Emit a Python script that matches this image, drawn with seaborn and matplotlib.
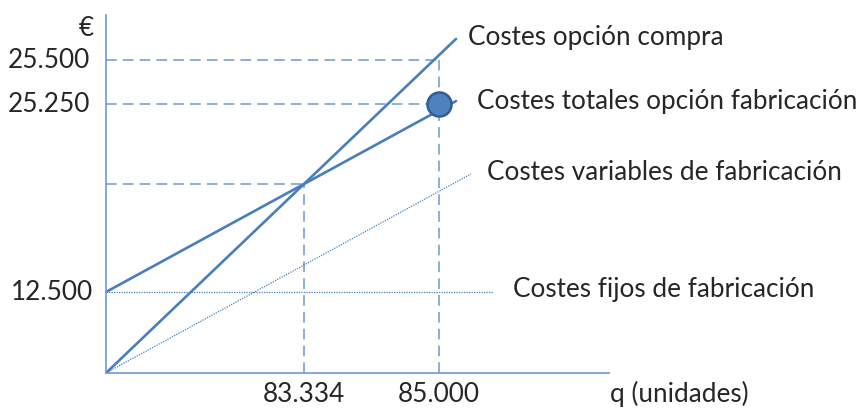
import numpy as np
import pandas as pd
import matplotlib.pyplot as plt
import seaborn as sns

# schematic break-even diagram (not to scale)
y_tick_labels = ['25.500', '25.250', '12.500']
x_tick_labels = ['83.334', '85.000']
line_names = ['Costes opción compra', 'Costes totales opción fabricación',
              'Costes variables de fabricación', 'Costes fijos de fabricación']

# diagram positions of the labelled values (axis length 503 x 358)
pos_fixed = 81       # 12.500
pos_25250 = 269
pos_25500 = 313
pos_be_x = 198       # 83.334
pos_be_y = 189
pos_85000 = 333
x_max, y_max = 503, 358
line_end = 350
var_end = 365
fixed_end = 387

blue = '#4a7ebb'
light = '#6f99d0'

sns.set_style('white')
plt.rcParams['font.family'] = ['Lato', 'DejaVu Sans']

fig = plt.figure(figsize=(8.59, 4.09), dpi=100)
ax = fig.add_axes([106 / 859, 36 / 409, x_max / 859, y_max / 409])
ax.set_xlim(0, x_max)
ax.set_ylim(0, y_max)

# lines through the break-even point
slope_buy = pos_be_y / pos_be_x
slope_make = (pos_be_y - pos_fixed) / pos_be_x
q = np.array([0, line_end])
buy = pd.DataFrame({'q': q, 'c': slope_buy * q})
make = pd.DataFrame({'q': q, 'c': pos_fixed + slope_make * q})
qv = np.array([0, var_end])
var = pd.DataFrame({'q': qv, 'c': slope_make * qv})
fixed = pd.DataFrame({'q': [0, fixed_end], 'c': [pos_fixed, pos_fixed]})

# guide lines
guide = dict(color=light, lw=1.1, dashes=(7, 4), zorder=1)
ax.plot([0, pos_85000], [pos_25500, pos_25500], **guide)
ax.plot([0, pos_85000], [pos_25250, pos_25250], **guide)
ax.plot([0, pos_be_x], [pos_be_y, pos_be_y], **guide)
ax.plot([pos_be_x, pos_be_x], [0, pos_be_y], **guide)
ax.plot([pos_85000, pos_85000], [0, pos_25500], **guide)

sns.lineplot(data=fixed, x='q', y='c', ax=ax, color=blue, lw=0.9, linestyle=(0, (1, 1)))
sns.lineplot(data=var, x='q', y='c', ax=ax, color=blue, lw=0.9, linestyle=(0, (1, 1)))
sns.lineplot(data=buy, x='q', y='c', ax=ax, color=blue, lw=1.9)
sns.lineplot(data=make, x='q', y='c', ax=ax, color=blue, lw=1.9)
sns.scatterplot(x=[pos_85000], y=[pos_25250], ax=ax, s=300, color='#4f81bd',
                edgecolor='#2f5f98', linewidth=1.8, zorder=5, clip_on=False)

for s in ['top', 'right']:
    ax.spines[s].set_visible(False)
for s in ['left', 'bottom']:
    ax.spines[s].set_color(light)
    ax.spines[s].set_linewidth(1.2)
ax.set_xticks([])
ax.set_yticks([])
ax.set_xlabel('')
ax.set_ylabel('')

tick_fs = 18.8
for lab, y in zip(y_tick_labels, [pos_25500, pos_25250, pos_fixed]):
    ax.text(-16 if lab != '12.500' else -13, y, lab, ha='right', va='center', fontsize=tick_fs, clip_on=False)
ax.text(-20, 344, '€', ha='center', va='center', fontsize=tick_fs, clip_on=False)
for lab, x in zip(x_tick_labels, [pos_be_x, pos_85000]):
    ax.text(x, -21, lab, ha='center', va='center', fontsize=tick_fs, clip_on=False)
ax.text(504, -21, 'q (unidades)', ha='left', va='center', fontsize=tick_fs, clip_on=False)

lab_fs = 18.8
ax.text(362, 335, line_names[0], ha='left', va='center', fontsize=lab_fs, clip_on=False)
ax.text(371, 271, line_names[1], ha='left', va='center', fontsize=lab_fs, clip_on=False)
ax.text(381, 200, line_names[2], ha='left', va='center', fontsize=lab_fs, clip_on=False)
ax.text(407, 83, line_names[3], ha='left', va='center', fontsize=lab_fs, clip_on=False)

fig.savefig('out.png', dpi=100)
